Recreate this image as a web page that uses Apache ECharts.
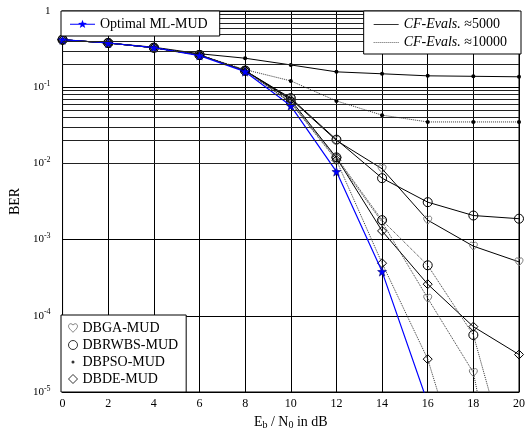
<!DOCTYPE html>
<html>
<head>
<meta charset="utf-8">
<script src="https://cdn.jsdelivr.net/npm/echarts@6/dist/echarts.min.js"></script>
<style>
html, body { margin: 0; padding: 0; background: #fff; }
#chart { width: 528px; height: 435px; }
</style>
</head>
<body>
<div id="chart"></div>
<script>
// Eb/N0 in dB
var snr = [0, 2, 4, 6, 8, 10, 12, 14, 16, 18, 20];

// BER values (null = not drawn)
var optimal    = [0.42, 0.38, 0.33, 0.26, 0.16, 0.057, 0.0078, 3.8e-4, 7.2e-6, null, null];

// CF-Evals ~5000 (solid)
var gaSolid    = [0.42, 0.38, 0.33, 0.265, 0.165, 0.070, 0.0200, 0.0085, 0.0018, 8.2e-4, 5.1e-4];
var rwbsSolid  = [0.42, 0.38, 0.33, 0.265, 0.165, 0.072, 0.0205, 0.0064, 0.0031, 0.00207, 0.00188];
var psoSolid   = [0.42, 0.38, 0.335, 0.275, 0.24, 0.196, 0.159, 0.150, 0.141, 0.139, 0.137];
var deSolid    = [0.42, 0.38, 0.33, 0.265, 0.165, 0.068, 0.0119, 0.0013, 2.6e-4, 7.2e-5, 3.1e-5];

// CF-Evals ~10000 (dotted)
var gaDotted   = [0.42, 0.38, 0.33, 0.265, 0.165, 0.063, 0.0115, 0.0017, 1.7e-4, 1.8e-5, 2e-8];
var rwbsDotted = [0.42, 0.38, 0.33, 0.265, 0.165, 0.064, 0.0120, 0.0018, 4.6e-4, 5.6e-5, 4e-7];
var psoDotted  = [0.42, 0.38, 0.33, 0.265, 0.170, 0.121, 0.066, 0.043, 0.035, 0.035, 0.035];
var deDotted   = [0.42, 0.38, 0.33, 0.265, 0.165, 0.062, 0.0110, 4.9e-4, 2.7e-5, 3e-7, null];

var yMin = 1e-5, yMax = 1;

// minor log grid lines (2..9 in every decade)
var minorLines = [];
for (var d = -5; d < 0; d++) {
    for (var m = 2; m <= 9; m++) {
        minorLines.push({yAxis: m * Math.pow(10, d)});
    }
}

var FONT = 'Liberation Serif';
var heart = 'path://M12 22 C 6 16, 1 12, 1 7 C 1 3.5, 3.5 1, 6.5 1 C 9 1, 11 2.5, 12 4.5 C 13 2.5, 15 1, 17.5 1 C 20.5 1, 23 3.5, 23 7 C 23 12, 18 16, 12 22 Z';
var star = 'path://M12 0 L14.8 8.6 L24 9.2 L16.8 15 L19.4 24 L12 19 L4.6 24 L7.2 15 L0 9.2 L9.2 8.6 Z';
var hollow = 'rgba(255,255,255,0)';

// legend icons (the M0 0 / M.. moves only fix the bounding box)
var iconOptimal = 'path://M0 0 M25 9 M0 4.3 L25 4.3 L25 5.3 L0 5.3 Z ' +
    'M12.5 0.2 L13.62 3.26 L16.87 3.38 L14.31 5.39 L15.2 8.52 L12.5 6.7 L9.8 8.52 L10.69 5.39 L8.13 3.38 L11.38 3.26 Z';
var iconSolid = 'path://M0 0 M25 9 M0 4.5 L25 4.5 L25 5.5 L0 5.5 Z';
var iconDotted = 'path://M0 0 M25 9';
for (var k = 0; k < 25; k += 2) {
    iconDotted += ' M' + k + ' 4.5 L' + (k + 1) + ' 4.5 L' + (k + 1) + ' 5.5 L' + k + ' 5.5 Z';
}
var iconDot = 'path://M0 0 M10 10 M5 3.3 A1.7 1.7 0 1 1 5 6.7 A1.7 1.7 0 1 1 5 3.3 Z';

function pairs(arr) {
    var out = [];
    for (var i = 0; i < snr.length; i++) {
        if (arr[i] !== null) out.push([snr[i], arr[i]]);
    }
    return out;
}

function curve(name, arr, dotted, symbol, size, itemStyle) {
    return {
        name: name,
        type: 'line',
        data: pairs(arr),
        symbol: symbol,
        symbolSize: size,
        showSymbol: true,
        clip: true,
        z: 3,
        itemStyle: itemStyle,
        lineStyle: {color: dotted ? '#333' : '#000', width: 1, type: dotted ? 'dotted' : 'solid'},
        emphasis: {disabled: true}
    };
}

var gaStyle   = {color: hollow, borderColor: '#777', borderWidth: 1};
var rwbsStyle = {color: hollow, borderColor: '#000', borderWidth: 1};
var psoStyle  = {color: '#000'};
var deStyle   = {color: hollow, borderColor: '#000', borderWidth: 1};

var boxLegend = {
    orient: 'vertical',
    selectedMode: false,
    zlevel: 1,
    z: 10,
    backgroundColor: '#fff',
    borderColor: '#000',
    borderWidth: 1,
    textStyle: {fontFamily: FONT, fontSize: 14, color: '#000', lineHeight: 14}
};

function legendBox(extra) {
    var out = {};
    for (var key in boxLegend) out[key] = boxLegend[key];
    for (var key2 in extra) out[key2] = extra[key2];
    return out;
}

var chart = echarts.init(document.getElementById('chart'));

var option = {
    animation: false,
    textStyle: {fontFamily: FONT, color: '#000'},
    grid: {left: 61, right: 7, top: 11, bottom: 42, show: true, borderColor: '#000', borderWidth: 1},
    xAxis: {
        type: 'value',
        min: 0, max: 20, interval: 2,
        name: '{n|E}{s|b}{n| / N}{s|0}{n| in dB}',
        nameLocation: 'middle',
        nameGap: 22,
        nameTextStyle: {
            rich: {
                n: {fontFamily: FONT, fontSize: 14, color: '#000'},
                s: {fontFamily: FONT, fontSize: 10, color: '#000', padding: [6, 0, 0, 0]}
            }
        },
        axisLine: {lineStyle: {color: '#000'}},
        axisTick: {show: false},
        axisLabel: {fontFamily: FONT, fontSize: 12, color: '#000', margin: 6},
        splitLine: {show: true, lineStyle: {color: '#000', width: 1}}
    },
    yAxis: {
        type: 'log',
        logBase: 10,
        min: yMin, max: yMax,
        name: 'BER',
        nameLocation: 'middle',
        nameGap: 37,
        nameTextStyle: {fontFamily: FONT, fontSize: 14, color: '#000'},
        axisLine: {lineStyle: {color: '#000'}},
        axisTick: {show: false},
        axisLabel: {
            margin: 12,
            formatter: function (v) {
                var e = Math.round(Math.log(v) / Math.LN10);
                if (e === 0) return '{b|1}';
                return '{b|10}{e|' + e + '}';
            },
            rich: {
                b: {fontFamily: FONT, fontSize: 11, color: '#000'},
                e: {fontFamily: FONT, fontSize: 8, color: '#000', padding: [0, 0, 7, 0]}
            }
        },
        splitLine: {show: true, lineStyle: {color: '#000', width: 1}}
    },
    legend: [
        legendBox({
            data: [{name: 'Optimal ML-MUD', icon: iconOptimal, itemStyle: {color: '#0000ff', borderWidth: 0}}],
            left: 61, top: 11,
            padding: [6, 12, 5, 9],
            itemWidth: 25, itemHeight: 9,
            itemGap: 0
        }),
        legendBox({
            data: [
                {name: 'CF-Evals. ≈5000', icon: iconSolid, itemStyle: {color: '#000', borderWidth: 0}},
                {name: 'CF-Evals. ≈10000', icon: iconDotted, itemStyle: {color: '#333', borderWidth: 0}}
            ],
            right: 7, top: 11,
            padding: [6, 14, 5, 10],
            itemWidth: 25, itemHeight: 9,
            itemGap: 4,
            formatter: function (n) {
                var p = n.split(' ');
                return '{i|' + p[0] + '} {r|' + p[1] + '}';
            },
            textStyle: {
                fontFamily: FONT, fontSize: 14, color: '#000', lineHeight: 14,
                rich: {
                    i: {fontFamily: FONT, fontSize: 14, fontStyle: 'italic', color: '#000'},
                    r: {fontFamily: FONT, fontSize: 14, color: '#000'}
                }
            }
        }),
        legendBox({
            data: [
                {name: 'DBGA-MUD', icon: heart, itemStyle: {color: hollow, borderColor: '#666', borderWidth: 1}},
                {name: 'DBRWBS-MUD', icon: 'circle', itemStyle: {color: hollow, borderColor: '#000', borderWidth: 1}},
                {name: 'DBPSO-MUD', icon: iconDot, itemStyle: {color: '#000', borderWidth: 0}},
                {name: 'DBDE-MUD', icon: 'diamond', itemStyle: {color: hollow, borderColor: '#000', borderWidth: 1}}
            ],
            left: 61, top: 315,
            padding: [6, 8, 6, 7],
            itemWidth: 9, itemHeight: 9,
            itemGap: 3
        })
    ],
    series: [
        {
            name: 'grid',
            type: 'line',
            data: [],
            z: 1,
            silent: true,
            markLine: {
                silent: true,
                symbol: 'none',
                animation: false,
                label: {show: false},
                lineStyle: {color: '#222', width: 1, type: 'solid'},
                emphasis: {disabled: true},
                data: minorLines
            }
        },
        curve('DBGA 5000', gaSolid, false, heart, 8, gaStyle),
        curve('DBRWBS 5000', rwbsSolid, false, 'circle', 9, rwbsStyle),
        curve('DBPSO 5000', psoSolid, false, 'circle', 4, psoStyle),
        curve('DBDE 5000', deSolid, false, 'diamond', 9, deStyle),
        curve('DBGA 10000', gaDotted, true, heart, 8, gaStyle),
        curve('DBRWBS 10000', rwbsDotted, true, 'circle', 9, rwbsStyle),
        curve('DBPSO 10000', psoDotted, true, 'circle', 4, psoStyle),
        curve('DBDE 10000', deDotted, true, 'diamond', 9, deStyle),
        {
            name: 'Optimal ML-MUD',
            type: 'line',
            data: pairs(optimal),
            symbol: star,
            symbolSize: 9,
            clip: true,
            z: 4,
            itemStyle: {color: '#0000ff', borderColor: '#000060', borderWidth: 0.5},
            lineStyle: {color: '#0000ff', width: 1.2},
            emphasis: {disabled: true}
        },
        // legend-only entries
        {name: 'CF-Evals. ≈5000', type: 'scatter', data: [], itemStyle: {color: '#000'}},
        {name: 'CF-Evals. ≈10000', type: 'scatter', data: [], itemStyle: {color: '#333'}},
        {name: 'DBGA-MUD', type: 'scatter', data: [], itemStyle: gaStyle},
        {name: 'DBRWBS-MUD', type: 'scatter', data: [], itemStyle: rwbsStyle},
        {name: 'DBPSO-MUD', type: 'scatter', data: [], itemStyle: psoStyle},
        {name: 'DBDE-MUD', type: 'scatter', data: [], itemStyle: deStyle}
    ]
};

chart.setOption(option);
</script>
</body>
</html>
